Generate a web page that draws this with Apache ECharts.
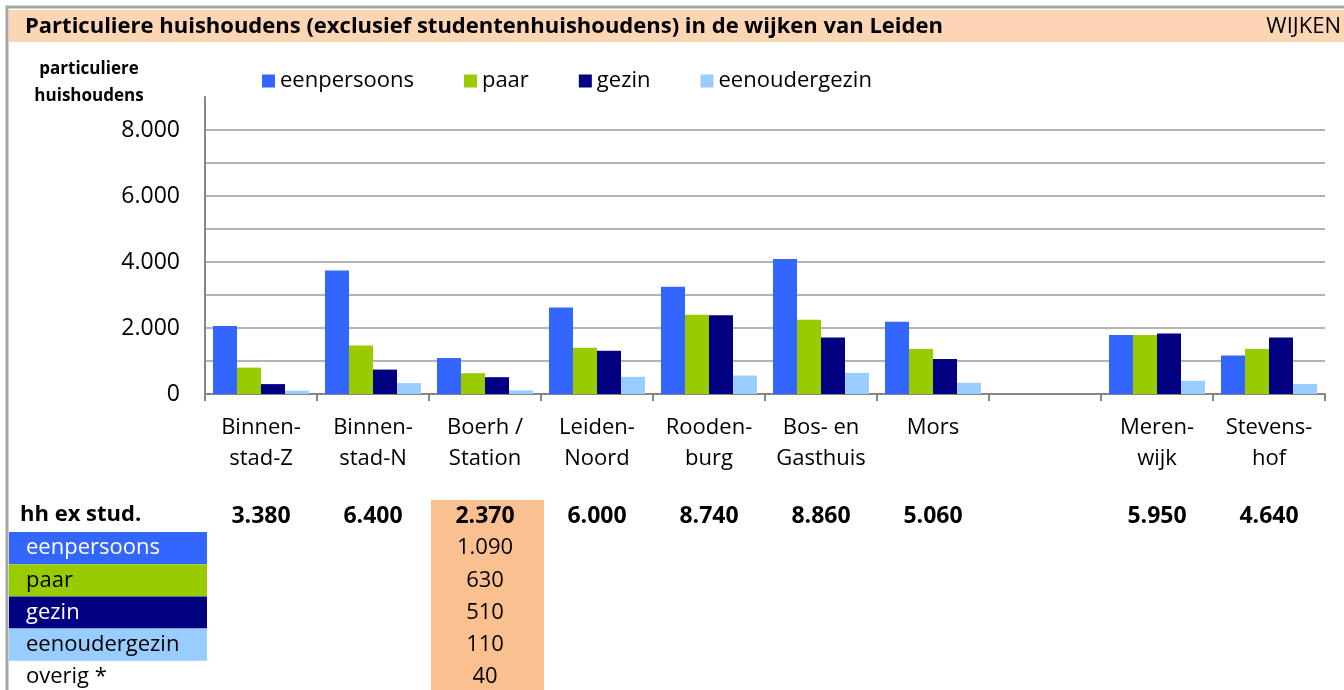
<!DOCTYPE html>
<html>
<head>
<meta charset="utf-8">
<title>Particuliere huishoudens Leiden</title>
<script src="https://cdn.jsdelivr.net/npm/echarts@6/dist/echarts.min.js"></script>
<style>
  html, body { margin: 0; padding: 0; background: #fff; }
  #chart { width: 1344px; height: 690px; }
</style>
</head>
<body>
<div id="chart"></div>
<script>
// wijken (tick labels), lege kolom tussen Mors en Merenwijk
var wijken = ['Binnen-\nstad-Z', 'Binnen-\nstad-N', 'Boerh /\nStation', 'Leiden-\nNoord', 'Rooden-\nburg',
              'Bos- en\nGasthuis', 'Mors', '', 'Meren-\nwijk', 'Stevens-\nhof'];

var eenpersoons   = [2060, 3740, 1090, 2620, 3250, 4090, 2190, null, 1790, 1170];
var paar          = [800, 1470, 630, 1400, 2400, 2250, 1360, null, 1790, 1360];
var gezin         = [300, 740, 510, 1310, 2390, 1710, 1060, null, 1830, 1710];
var eenoudergezin = [100, 330, 110, 520, 560, 640, 340, null, 400, 300];

// hh ex stud. per wijk
var totalen = [3380, 6400, 2370, 6000, 8740, 8860, 5060, null, 5950, 4640];

// detail voor de gemarkeerde wijk (Boerh / Station)
var detailIndex = 2;
var detailLabels = ['eenpersoons', 'paar', 'gezin', 'eenoudergezin', 'overig *'];
var detailValues = [1090, 630, 510, 110, 40];

var kleuren = ['#3366FF', '#99CC00', '#000080', '#99CCFF'];
var FONT = '"Open Sans", sans-serif';

function fmt(v){
    // nederlandse notatie met punt als duizendtal
    return String(v).replace(/\B(?=(\d{3})+(?!\d))/g, '.');
}

var chart = echarts.init(document.getElementById('chart'));

var option = {
    animation: false,
    backgroundColor: '#fff',
    textStyle: { fontFamily: FONT },
    grid: { left: 205, right: 19, top: 97, height: 297 },
    legend: {
        left: 262, top: 70, padding: 0,
        itemWidth: 13, itemHeight: 13, itemGap: 50,
        icon: 'rect',
        textStyle: { fontFamily: FONT, fontSize: 22, color: '#000' },
        data: ['eenpersoons', 'paar', 'gezin', 'eenoudergezin']
    },
    xAxis: [{
        type: 'category',
        data: wijken,
        axisLine: { lineStyle: { color: '#868686', width: 2 } },
        axisTick: { show: true, length: 7, lineStyle: { color: '#868686', width: 2 } },
        axisLabel: { interval: 0, margin: 18, fontFamily: FONT, fontSize: 22, color: '#000', lineHeight: 31 },
        splitLine: { show: false }
    }, {
        // rij "hh ex stud." onder de grafiek
        type: 'category',
        position: 'bottom',
        data: wijken,
        axisLine: { show: false },
        axisTick: { show: false },
        axisLabel: {
            interval: 0, margin: 111, fontFamily: FONT, fontSize: 23, fontWeight: 'bold', color: '#000',
            formatter: function(v, i){ return totalen[i] == null ? '' : fmt(totalen[i]); }
        }
    }],
    yAxis: {
        type: 'value',
        min: 0, max: 9000, interval: 1000,
        axisLine: { show: true, lineStyle: { color: '#868686', width: 2 } },
        axisTick: { show: false },
        axisLabel: {
            margin: 25, fontFamily: FONT, fontSize: 23, color: '#000',
            formatter: function(v){ return v % 2000 === 0 ? fmt(v) : ''; }
        },
        splitLine: { lineStyle: {
            width: 2,
            color: ['#b3b3b3','#b3b3b3','#b3b3b3','#b3b3b3','#b3b3b3','#b3b3b3','#b3b3b3','#b3b3b3','#b3b3b3','rgba(0,0,0,0)']
        } }
    },
    series: [
        { name: 'eenpersoons', type: 'bar', data: eenpersoons, itemStyle: { color: kleuren[0] }, barGap: 0, barCategoryGap: '14.3%' },
        { name: 'paar', type: 'bar', data: paar, itemStyle: { color: kleuren[1] } },
        { name: 'gezin', type: 'bar', data: gezin, itemStyle: { color: kleuren[2] } },
        { name: 'eenoudergezin', type: 'bar', data: eenoudergezin, itemStyle: { color: kleuren[3] } }
    ]
};

chart.setOption(option);

// tabel en kader tekenen, kolommen uitgelijnd op de categorie-as
var cx = chart.convertToPixel({ xAxisIndex: 0 }, detailIndex);
var band = (1344 - 205 - 19) / wijken.length;
var rowTop = 532, rowH = 32.2;
var cellText = ['#fff', '#000', '#fff', '#000', '#000'];
var cellFill = kleuren.concat([null]);

var g = [];
// kader
g.push({ type: 'rect', shape: { x: 7, y: 7, width: 1340, height: 700 }, style: { fill: 'none', stroke: '#a6a6a6', lineWidth: 3 }, z: 10 });
// titelbalk
g.push({ type: 'rect', shape: { x: 9, y: 10, width: 1335, height: 32 }, style: { fill: '#FCD5B4' } });
g.push({ type: 'text', x: 25, y: 27, style: { text: 'Particuliere huishoudens (exclusief studentenhuishoudens) in de wijken van Leiden',
    font: 'bold 22px ' + FONT, fill: '#000', verticalAlign: 'middle' } });
g.push({ type: 'text', x: 1341, y: 27, style: { text: 'WIJKEN', font: '22px ' + FONT, fill: '#000', align: 'right', verticalAlign: 'middle' } });
// as-titel
g.push({ type: 'text', x: 89, y: 83, style: { text: 'particuliere\nhuishoudens', font: 'bold 17px ' + FONT, lineHeight: 27,
    fill: '#000', align: 'center', verticalAlign: 'middle' } });
// gemarkeerde kolom
g.push({ type: 'rect', shape: { x: cx - band / 2 + 2, y: 500, width: band + 1, height: 200 }, style: { fill: '#FAC090' }, z: -1 });
g.push({ type: 'text', x: 20, y: 515, style: { text: 'hh ex stud.', font: 'bold 22px ' + FONT, fill: '#000', verticalAlign: 'middle' } });
for (var i = 0; i < detailLabels.length; i++) {
    var y = rowTop + i * rowH;
    if (cellFill[i]) {
        g.push({ type: 'rect', shape: { x: 9, y: y, width: 198, height: rowH }, style: { fill: cellFill[i] } });
    }
    g.push({ type: 'text', x: 26, y: y + rowH / 2, style: { text: detailLabels[i], font: '22px ' + FONT, fill: cellText[i], verticalAlign: 'middle' } });
    g.push({ type: 'text', x: cx, y: y + rowH / 2, style: { text: fmt(detailValues[i]), font: '22px ' + FONT, fill: '#000', align: 'center', verticalAlign: 'middle' } });
}
chart.setOption({ graphic: g });
</script>
</body>
</html>
